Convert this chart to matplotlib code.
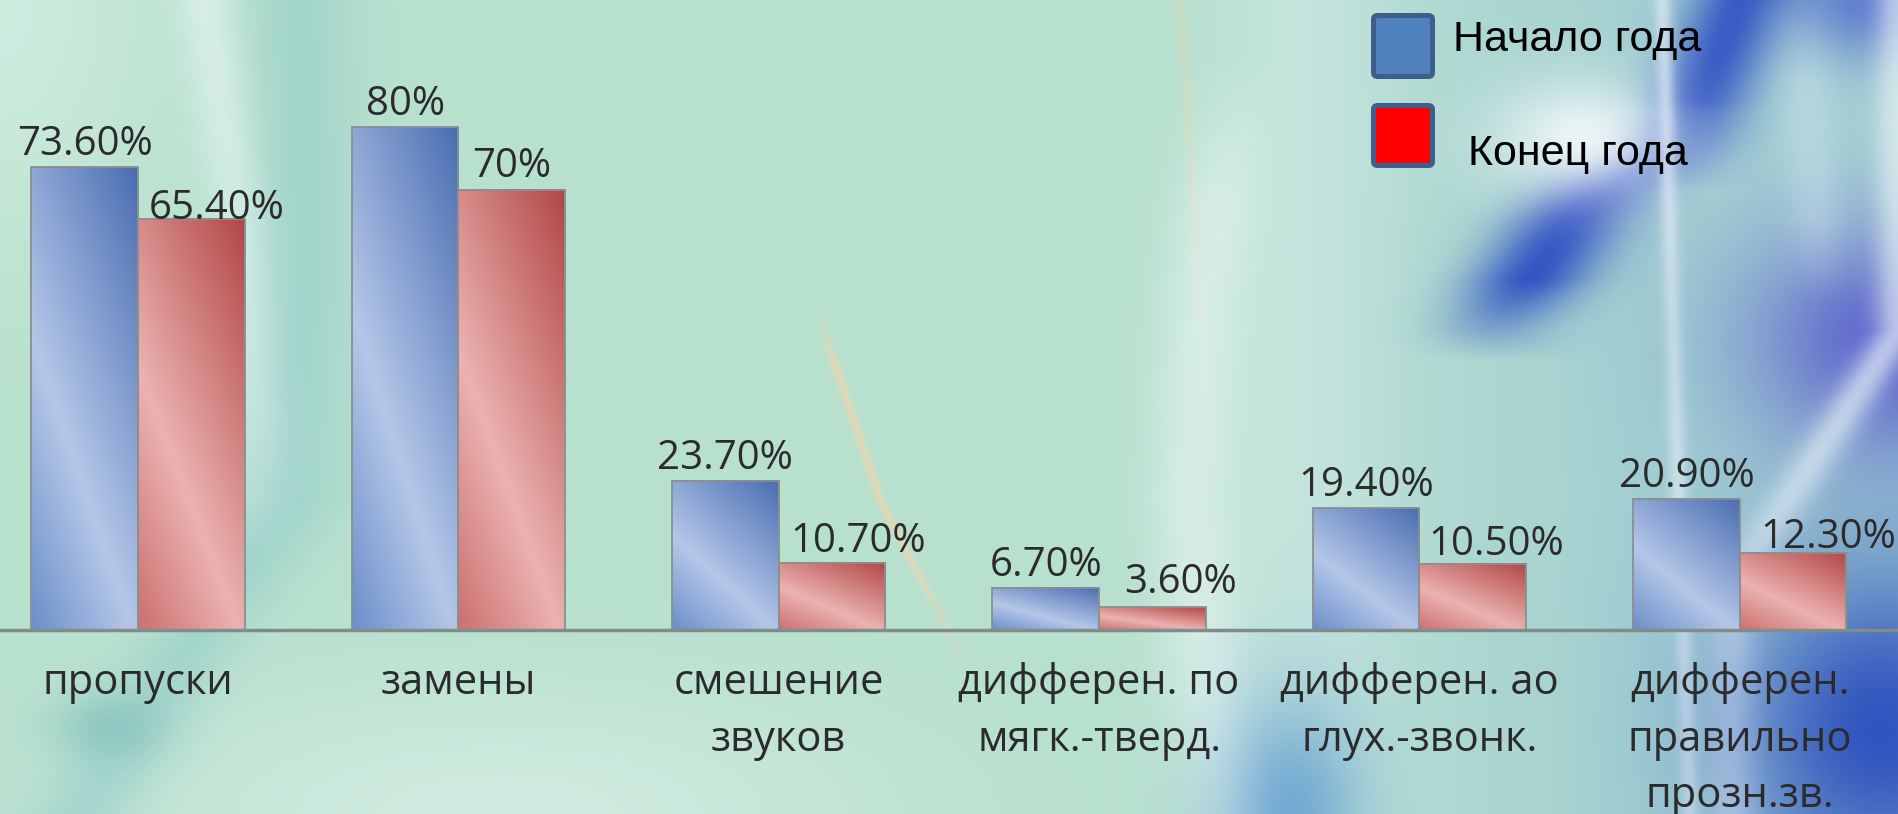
import numpy as np
import matplotlib.pyplot as plt
from matplotlib.patches import Rectangle, FancyBboxPatch
from matplotlib.transforms import IdentityTransform

# chart data
categories = ["пропуски", "замены", "смешение\nзвуков", "дифферен. по\nмягк.-тверд.",
              "дифферен. ао\nглух.-звонк.", "дифферен.\nправильно\nпрозн.зв."]
start_year = [73.6, 80.0, 23.7, 6.7, 19.4, 20.9]
end_year = [65.4, 70.0, 10.7, 3.6, 10.5, 12.3]
series_names = ["Начало года", "Конец года"]

# label nudges for the second series (pixels), as placed in the original
end_label_dx = [25, 0, 26, 28, 23, 35]
end_label_dy = [0, 13, 11, 14, 9, 5]

W, H = 1898, 814


def pct(v):
    return f"{v:.0f}%" if float(v).is_integer() else f"{v:.2f}%"


# ---- decorative background -------------------------------------------------
yy, xx = np.mgrid[0:H, 0:W].astype(float)
img = np.ones((H, W, 3)) * np.array([0.72, 0.88, 0.81])
WHITE = [0.93, 0.97, 0.97]
BLUE = [0.18, 0.31, 0.76]


def blend(alpha, color):
    global img
    a = np.clip(alpha, 0, 1)[..., None]
    img = img * (1 - a) + np.array(color) * a


def band(py, px, width, color, strength, sy=None, sv=None):
    cx = np.interp(yy[:, 0], py, px)[:, None]
    a = np.exp(-((xx - cx) / width) ** 2)
    if sy is not None:
        a = a * np.interp(yy[:, 0], sy, sv)[:, None]
    blend(strength * a, color)


def glow(cx, cy, rx, ry, color, strength):
    a = np.exp(-(((xx - cx) / rx) ** 2 + ((yy - cy) / ry) ** 2))
    blend(strength * a, color)


# right part drifts to a bluer teal
blend(0.65 * np.clip((xx - 1250) / 400, 0, 1), [0.6, 0.78, 0.83])
# left side: light corner, white crescent and teal swoosh
glow(0, 0, 160, 260, [0.86, 0.95, 0.91], 0.6)
glow(500, 814, 380, 130, [0.88, 0.95, 0.92], 0.6)
band([0, 200, 450, 600], [205, 238, 265, 250], 30, WHITE, 0.55, [0, 420, 560], [1, 1, 0])
band([0, 250, 500, 650, 814], [300, 305, 292, 185, 80], 50, [0.56, 0.79, 0.78], 0.5)
glow(105, 725, 55, 35, [0.42, 0.7, 0.7], 0.45)
# thin warm streaks in the middle
band([0, 380], [1180, 1205], 5, [0.92, 0.82, 0.68], 0.35, [0, 300, 400], [1, 1, 0])
band([330, 500, 670], [823, 880, 968], 5, [0.97, 0.84, 0.66], 0.6,
     [310, 360, 560, 680], [0, 1, 1, 0])
# white bulb right of centre
band([100, 300, 500, 700, 814], [1235, 1205, 1192, 1210, 1240], 45, WHITE, 0.55,
     [60, 200, 814], [0, 1, 1])
band([150, 814], [1310, 1310], 90, [0.85, 0.93, 0.94], 0.4)
glow(1290, 814, 75, 120, [0.28, 0.54, 0.8], 0.65)
# blue swooshes on the right
band([0, 100, 170], [1740, 1700, 1680], 50, BLUE, 0.9, [0, 100, 190], [1, 1, 0])
band([120, 220, 330], [1665, 1570, 1495], 60, BLUE, 0.95, [110, 170, 280, 360], [0, 1, 1, 0])
glow(1585, 140, 90, 60, [0.96, 0.98, 0.98], 0.9)
band([0, 400, 814], [1662, 1675, 1690], 9, [0.95, 0.97, 0.99], 0.55)
glow(1898, 0, 110, 60, [0.25, 0.35, 0.8], 0.8)
glow(1898, 340, 150, 120, [0.33, 0.34, 0.8], 0.9)
band([330, 450, 580], [1898, 1820, 1735], 24, WHITE, 0.65)
glow(1880, 730, 150, 170, [0.14, 0.28, 0.74], 0.9)
band([0, 814], [1800, 1860], 30, [0.85, 0.92, 0.96], 0.35, [0, 80, 220, 300], [0, 1, 1, 0])

fig = plt.figure(figsize=(W / 100, H / 100), dpi=100)
bg = fig.add_axes([0, 0, 1, 1], zorder=0)
bg.imshow(img, aspect="auto", interpolation="bilinear")
bg.axis("off")

# ---- bars -------------------------------------------------------------------
ax = fig.add_axes([0, 184 / H, 1, 630 / H], zorder=1)
ax.patch.set_alpha(0)
x = np.arange(len(categories))
bw = 0.333


def gradient(dark, light, mid, n=80):
    u = np.linspace(0, 1, n)[None, :]
    v = np.linspace(1, 0, n)[:, None]
    s = 0.4 * (1 - u) + 0.6 * (1 - v)
    dark, light, mid = (np.array(c)[None, None, :] for c in (dark, light, mid))
    t1 = np.clip(s / 0.62, 0, 1)[..., None]
    t2 = np.clip((s - 0.62) / 0.38, 0, 1)[..., None]
    col = dark * (1 - t1) + light * t1
    return col * (1 - t2) + mid * t2


blue_grad = gradient([0.29, 0.43, 0.70], [0.71, 0.78, 0.91], [0.42, 0.56, 0.79])
red_grad = gradient([0.70, 0.28, 0.28], [0.92, 0.70, 0.69], [0.80, 0.44, 0.44])

for vals, left, grad in ((start_year, x - bw, blue_grad), (end_year, x, red_grad)):
    for xl, v in zip(left, vals):
        ax.imshow(grad, extent=[xl, xl + bw, 0, v], aspect="auto", zorder=2,
                  interpolation="bilinear")
        ax.add_patch(Rectangle((xl, 0), bw, v, fill=False, edgecolor="#8a8f90",
                               linewidth=1.3, zorder=3))

for i, v in enumerate(start_year):
    ax.annotate(pct(v), (x[i] - bw / 2, v), xytext=(0, 12), textcoords="offset pixels",
                ha="center", va="baseline", fontsize=29, family="Open Sans",
                color="#2b2b2b", zorder=4)
for i, v in enumerate(end_year):
    ax.annotate(pct(v), (x[i] + bw / 2, v), xytext=(end_label_dx[i], end_label_dy[i]),
                textcoords="offset pixels", ha="center", va="baseline", fontsize=29,
                family="Open Sans", color="#2b2b2b", zorder=4, annotation_clip=False)

ax.set_xlim(-0.431, 5.494)
ax.set_ylim(0, 100.2)
for side in ("top", "right", "left"):
    ax.spines[side].set_visible(False)
ax.spines["bottom"].set_color("#7f8c88")
ax.spines["bottom"].set_linewidth(2.5)
ax.set_yticks([])
ax.set_xticks(x)
ax.set_xticklabels(categories, fontsize=30, family="Open Sans", color="#2b2b2b",
                   linespacing=1.46)
ax.tick_params(axis="x", length=0, pad=23)

# ---- legend -----------------------------------------------------------------
def fy(py):
    return 1 - py / H


for name, fill, top, bottom, tx, ty in ((series_names[0], "#4f81bd", 15.5, 76.5, 1453, 51),
                                        (series_names[1], "#ff0000", 105.5, 165.5, 1468, 165)):
    fig.patches.append(FancyBboxPatch((1373.5, H - bottom), 59, bottom - top,
                                      boxstyle="round,pad=0,rounding_size=4",
                                      facecolor=fill, edgecolor="#3c5f8c", linewidth=3.6,
                                      transform=IdentityTransform(), zorder=5))
    fig.text(tx / W, fy(ty), name, fontsize=31, family="Liberation Sans",
             ha="left", va="baseline", color="black", zorder=6)

fig.savefig("out.png", dpi=100)
